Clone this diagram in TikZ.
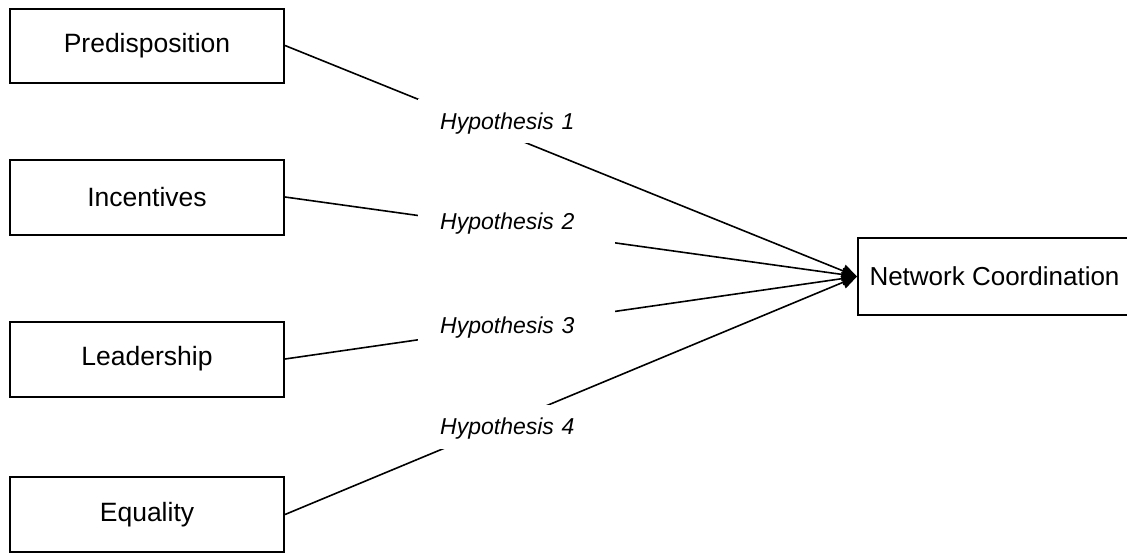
\documentclass[tikz,border=0pt]{standalone}
\usepackage{fontspec}
\setmainfont{Liberation Sans}
\usetikzlibrary{arrows.meta}
\begin{document}
\begin{tikzpicture}[x=1pt,y=-1pt,
  factor/.style={draw, line width=2pt, minimum width=274pt, minimum height=75pt, inner sep=0pt, font=\fontsize{26.5}{30}\selectfont},
  outcome/.style={factor, minimum width=273pt, minimum height=77pt, font=\fontsize{26}{30}\selectfont},
  link/.style={line width=1.6pt, -{Triangle[length=15pt,width=13pt]}},
  hyp/.style={fill=white, anchor=west, inner xsep=22pt, inner ysep=13.75pt, text height=16.5pt, text depth=0pt, text width=153pt, align=left, font=\fontsize{23}{27}\selectfont\itshape}]
\useasboundingbox (0,0) rectangle (1127,555);
\node[factor, minimum height=74pt] (pre) at (147,45.5) {Predisposition};
\node[factor] (inc) at (147,197) {Incentives};
\node[factor] (lea) at (147,359) {Leadership};
\node[factor] (equ) at (147,514.5) {Equality};
\node[outcome] (nc) at (994.5,276.5) {Network Coordination};
\coordinate (tip) at (nc.west);
\draw[link] (pre.east) -- (tip);
\draw[link] (inc.east) -- (tip);
\draw[link] (lea.east) -- (tip);
\draw[link] (equ.east) -- (tip);
\node[hyp] (h1) at (418,121) {Hypothesis 1};
\node[hyp] (h2) at (418,221.5) {Hypothesis 2};
\node[hyp] (h3) at (418,325) {Hypothesis 3};
\node[hyp] (h4) at (418,426.5) {Hypothesis 4};
\end{tikzpicture}
\end{document}
